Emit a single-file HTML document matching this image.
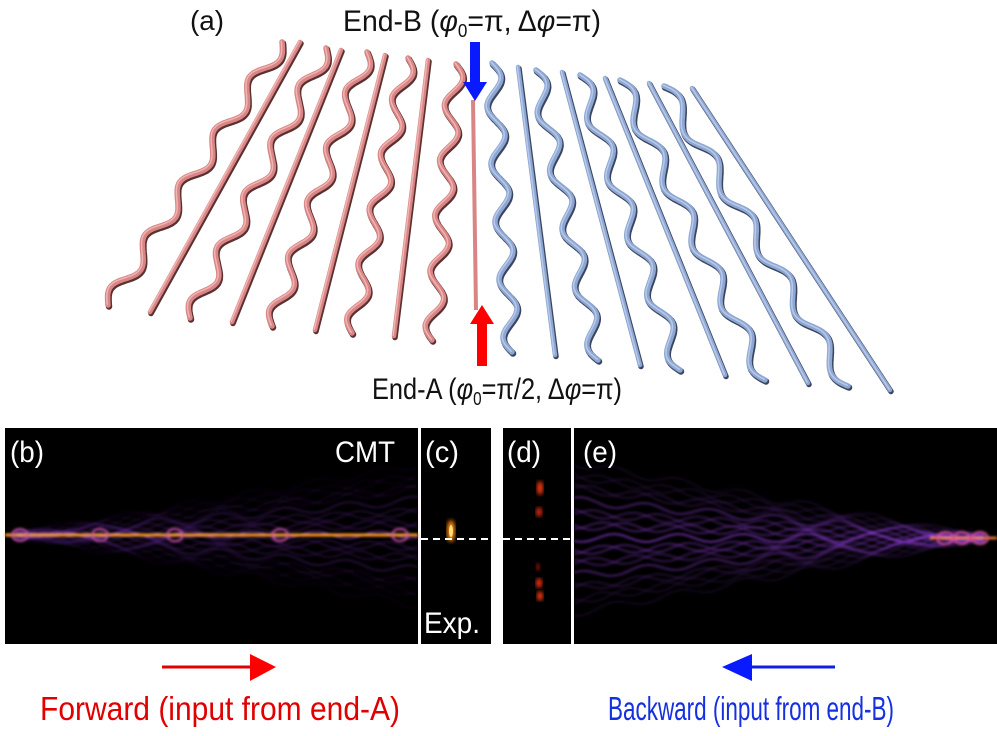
<!DOCTYPE html>
<html><head><meta charset="utf-8"><style>
html,body{margin:0;padding:0;background:#fff;}
svg{display:block;font-family:"Liberation Sans",sans-serif;}
</style></head><body>
<svg id="s" width="997" height="736" viewBox="0 0 997 736" xmlns="http://www.w3.org/2000/svg">
<defs>
<filter id="glow" x="-10%" y="-10%" width="120%" height="120%"><feGaussianBlur stdDeviation="1.2"/></filter>
<filter id="blur2"><feGaussianBlur stdDeviation="2"/></filter>
</defs>
<rect width="997" height="736" fill="#fff"/>
<g id="wg"></g>
<rect x="470" y="42" width="10" height="42" fill="#0a1aff"/>
<polygon points="463,82 487,82 475,101" fill="#0a1aff"/>
<rect x="477" y="322" width="10" height="44" fill="#ff0000"/>
<polygon points="470,324 494,324 482,305" fill="#ff0000"/>
<text x="190" y="30" font-size="28" fill="#111" textLength="34" lengthAdjust="spacingAndGlyphs">(a)</text>
<text x="343" y="31" font-size="30" fill="#111" textLength="258" lengthAdjust="spacingAndGlyphs">End-B (<tspan font-style="italic">φ</tspan><tspan font-size="18" dy="6">0</tspan><tspan dy="-6">=π, Δ</tspan><tspan font-style="italic">φ</tspan>=π)</text>
<text x="372" y="399" font-size="30" fill="#111" textLength="250" lengthAdjust="spacingAndGlyphs">End-A (<tspan font-style="italic">φ</tspan><tspan font-size="18" dy="6">0</tspan><tspan dy="-6">=π/2, Δ</tspan><tspan font-style="italic">φ</tspan>=π)</text>
<rect x="5" y="428" width="413" height="216" fill="#000"/>
<rect x="421" y="428" width="70" height="216" fill="#000"/>
<rect x="503" y="428" width="68" height="216" fill="#000"/>
<rect x="574" y="428" width="423" height="216" fill="#000"/>
<g id="hb" filter="url(#glow)"></g>
<g id="he" filter="url(#glow)"></g>
<ellipse cx="451" cy="531" rx="4" ry="11" fill="#ff8a10" filter="url(#blur2)"/>
<ellipse cx="451" cy="531" rx="2" ry="6" fill="#ffe080"/>
<ellipse cx="540" cy="488" rx="3" ry="7" fill="#ff3a10" filter="url(#blur2)"/>
<ellipse cx="539" cy="512" rx="3" ry="5" fill="#e02a10" filter="url(#blur2)"/>
<ellipse cx="538" cy="567" rx="2" ry="4" fill="#a01808" filter="url(#blur2)"/>
<ellipse cx="539" cy="583" rx="3" ry="5" fill="#ff3010" filter="url(#blur2)"/>
<ellipse cx="540" cy="596" rx="3" ry="5" fill="#ff3a10" filter="url(#blur2)"/>
<line x1="421" y1="539" x2="491" y2="539" stroke="#fff" stroke-width="2" stroke-dasharray="7,5"/>
<line x1="503" y1="539" x2="571" y2="539" stroke="#fff" stroke-width="2" stroke-dasharray="7,5"/>
<text x="10" y="462" font-size="30" fill="#fff" textLength="34" lengthAdjust="spacingAndGlyphs">(b)</text>
<text x="335" y="462" font-size="30" fill="#fff" textLength="60" lengthAdjust="spacingAndGlyphs">CMT</text>
<text x="425" y="462" font-size="30" fill="#fff" textLength="34" lengthAdjust="spacingAndGlyphs">(c)</text>
<text x="424" y="633" font-size="30" fill="#fff" textLength="56" lengthAdjust="spacingAndGlyphs">Exp.</text>
<text x="507" y="462" font-size="30" fill="#fff" textLength="34" lengthAdjust="spacingAndGlyphs">(d)</text>
<text x="583" y="462" font-size="30" fill="#fff" textLength="34" lengthAdjust="spacingAndGlyphs">(e)</text>
<line x1="162" y1="667" x2="255" y2="667" stroke="#e00000" stroke-width="3"/>
<polygon points="250,654 276,667 250,681" fill="#ff0000"/>
<line x1="750" y1="667" x2="835" y2="667" stroke="#1020e0" stroke-width="3"/>
<polygon points="752,654 722,667 752,681" fill="#0a1aff"/>
<text x="40" y="720" font-size="33" fill="#e00000" textLength="360" lengthAdjust="spacingAndGlyphs">Forward (input from end-A)</text>
<text x="608" y="720" font-size="33" fill="#1530e0" textLength="286" lengthAdjust="spacingAndGlyphs">Backward (input from end-B)</text>
</svg>
<script>
var NS="http://www.w3.org/2000/svg";
function el(p,t,a){var e=document.createElementNS(NS,t);for(var k in a)e.setAttribute(k,a[k]);p.appendChild(e);return e;}
var wg=document.getElementById("wg");
var red=[[108,305,282,42,1],[150,312,300,42,0],[190,318,326,48,1],[232,322,341,50,0],[272,326,367,52,1],[315,330,385,55,0],[352,333,408,58,1],[394,336,428,60,0],[432,340,456,64,1]];
var blue=[[512,352,492,63,1],[555,355,518,67,0],[598,360,536,70,1],[640,365,562,72,0],[680,370,580,75,1],[725,375,605,78,0],[765,380,620,80,1],[808,383,649,83,0],[848,386,664,86,1],[890,390,692,88,0]];
function path(L){var x0=L[0],y0=L[1],x1=L[2],y1=L[3];var d="";
 if(!L[4]) return "M"+x0+","+y0+"L"+x1+","+y1;
 var dx=x1-x0,dy=y1-y0,len=Math.hypot(dx,dy),nx=-dy/len,ny=dx/len;
 for(var i=0;i<=200;i++){var t=i/200;var o=8*Math.sin(2*Math.PI*5*t+Math.PI);var x=x0+dx*t+nx*o,y=y0+dy*t+ny*o;d+=(i?"L":"M")+x.toFixed(1)+","+y.toFixed(1);}
 return d;}
function draw(arr,dark,mid,lite){arr.forEach(function(L){var d=path(L);
 el(wg,"path",{d:d,fill:"none",stroke:dark,"stroke-width":L[4]?6.5:5.5,"stroke-linecap":"round",transform:"translate(1,1.5)"});
 el(wg,"path",{d:d,fill:"none",stroke:mid,"stroke-width":L[4]?5.5:4.5,"stroke-linecap":"round"});
 el(wg,"path",{d:d,fill:"none",stroke:lite,"stroke-width":1.5,"stroke-linecap":"round",transform:"translate(-0.8,-0.8)"});});}
draw(red,"#5a3030","#d98585","#efb5b3");
draw(blue,"#3a4660","#8ea6d2","#b8caea");
el(wg,"path",{d:"M473,100L476,310",stroke:"#d98585","stroke-width":4,fill:"none"});
var hb=document.getElementById("hb");
function lat(g,xa,xb,cy,spread,col,op){for(var k=-6;k<=6;k++){for(var s=-1;s<=1;s+=2){var pts="";for(var i=0;i<=60;i++){var t=i/60;var x=xa+(xb-xa)*t;var w=spread*t;var y=cy+s*(k*w/6)+4*Math.sin(t*40+k);pts+=(i?"L":"M")+x.toFixed(1)+","+y.toFixed(1);}
 el(g,"path",{d:pts,fill:"none",stroke:col,"stroke-width":1.6,opacity:op*(1-Math.abs(k)/7)});}}}
lat(hb,15,418,535,70,"#7a30c0",0.35);
el(hb,"line",{x1:5,y1:535,x2:418,y2:535,stroke:"#ff9a20","stroke-width":3});
[20,100,175,280,400].forEach(function(x){el(hb,"ellipse",{cx:x,cy:535,rx:8,ry:6,fill:"none",stroke:"#c050a0","stroke-width":2});});
var he=document.getElementById("he");
lat(he,985,574,538,75,"#8a3ad0",0.6);
el(he,"line",{x1:930,y1:538,x2:997,y2:538,stroke:"#ff8a30","stroke-width":2.5});
[945,962,980].forEach(function(x){el(he,"ellipse",{cx:x,cy:538,rx:8,ry:6,fill:"none",stroke:"#d05090","stroke-width":2});});
</script>
</body></html>
